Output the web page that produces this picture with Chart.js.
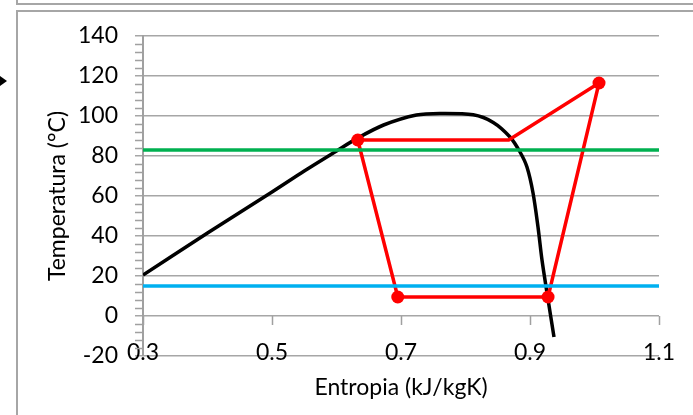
<!DOCTYPE html>
<html>
<head>
<meta charset="utf-8">
<script src="https://cdn.jsdelivr.net/npm/chart.js@4"></script>
<style>
  html, body { margin: 0; padding: 0; background: #fff; }
  #wrap { position: relative; width: 693px; height: 415px; }
</style>
</head>
<body>
<div id="wrap"><canvas id="tsChart" width="693" height="415"></canvas></div>
<script>
// --- DATA ---
// saturation dome (entropy kJ/kgK, temperature °C)
const domeS = [0.3, 0.4, 0.5, 0.55, 0.6, 0.632, 0.673, 0.724, 0.76, 0.812, 0.843, 0.869, 0.8845, 0.8953, 0.9047, 0.9124, 0.9186, 0.9264, 0.9372];
const domeT = [20.5, 41.5, 62, 72.5, 82.5, 88.8, 95.5, 100.5, 101.3, 100.6, 96.8, 89.5, 82, 74.5, 61.5, 44.5, 28, 11.5, -10.5];

// refrigeration cycle
const cycleS = [0.633, 0.867, 1.007, 0.928, 0.695, 0.633];
const cycleT = [88, 88, 116.5, 9.5, 9.5, 88];
const cycleMarker = [6.5, 0, 6.5, 6.5, 6.5, 0];

// constant temperature lines
const lineS = [0.3, 1.1];
const hotT = 83;
const coldT = 15;

const xTicks = [0.3, 0.5, 0.7, 0.9, 1.1];
const yTicks = [-20, 0, 20, 40, 60, 80, 100, 120, 140];

function pts(xs, ys) {
    return xs.map((x, i) => ({ x: x, y: ys[i] }));
}

// --- DECORATION: frame, arrow, x ticks at 0, minor y ticks ---
const decor = {
    id: 'decor',
    beforeDraw(chart) {
        const c = chart.ctx;
        c.save();
        c.strokeStyle = '#a6a6a6';
        c.lineWidth = 2;
        c.beginPath();
        c.moveTo(17, 0); c.lineTo(17, 4); c.lineTo(693, 4);
        c.moveTo(17, 415); c.lineTo(17, 11); c.lineTo(693, 11);
        c.stroke();
        // little arrow at the left
        c.fillStyle = '#000';
        c.beginPath();
        c.moveTo(0, 76); c.lineTo(7, 81); c.lineTo(0, 86);
        c.closePath();
        c.fill();
        c.restore();
    },
    beforeDatasetsDraw(chart) {
        const c = chart.ctx;
        const xs = chart.scales.x, ys = chart.scales.y;
        const y0 = ys.getPixelForValue(0);
        const left = chart.chartArea.left;
        c.save();
        c.strokeStyle = '#a0a0a0';
        c.lineWidth = 1.5;
        c.beginPath();
        // x ticks hanging from the zero line
        xTicks.forEach(v => {
            const px = Math.round(xs.getPixelForValue(v)) + 0.5;
            c.moveTo(px, y0); c.lineTo(px, y0 + 9);
        });
        // minor ticks on y axis every 4
        for (let v = -20; v <= 140; v += 4) {
            if (v % 20 === 0) continue;
            const py = Math.round(ys.getPixelForValue(v)) + 0.5;
            c.moveTo(left - 8, py); c.lineTo(left, py);
        }
        c.stroke();
        c.restore();
    }
};

const ctx = document.getElementById('tsChart').getContext('2d');
new Chart(ctx, {
    type: 'scatter',
    data: {
        datasets: [
            { label: 'hot', data: pts(lineS, [hotT, hotT]), showLine: true, borderColor: '#00b050', borderWidth: 3.5, pointRadius: 0 },
            { label: 'cold', data: pts(lineS, [coldT, coldT]), showLine: true, borderColor: '#00b0f0', borderWidth: 3.5, pointRadius: 0 },
            { label: 'cycle', data: pts(cycleS, cycleT), showLine: true, borderColor: '#ff0000', borderWidth: 3.5,
              pointRadius: cycleMarker, pointBackgroundColor: '#ff0000', pointBorderColor: '#ff0000', pointBorderWidth: 0 },
            { label: 'dome', data: pts(domeS, domeT), showLine: true, borderColor: '#000', borderWidth: 3.5, pointRadius: 0,
              tension: 0.3 }
        ]
    },
    options: {
        responsive: false,
        animation: false,
        events: [],
        layout: { padding: { left: 0, top: 36, right: 34, bottom: 0 } },
        plugins: { legend: { display: false }, tooltip: { enabled: false } },
        scales: {
            x: {
                type: 'linear', min: 0.3, max: 1.1,
                afterBuildTicks: s => { s.ticks = xTicks.map(v => ({ value: v })); },
                afterFit: s => { s.height = 59; },
                grid: { display: false, drawTicks: false },
                border: { display: false },
                // mirrored so the labels sit on the bottom gridline like the original
                ticks: { mirror: true, padding: -10, color: '#000', font: { family: 'Lato', size: 23 }, callback: v => String(v) },
                title: { display: true, text: 'Entropia (kJ/kgK)', color: '#000', padding: 14, font: { family: 'Lato', size: 23 } }
            },
            y: {
                min: -20, max: 140,
                afterBuildTicks: s => { s.ticks = yTicks.map(v => ({ value: v })); },
                afterFit: s => { s.width = 143; },
                grid: { color: '#a6a6a6', lineWidth: 1.5, tickLength: 8, drawTicks: true },
                border: { color: '#a0a0a0', width: 2 },
                ticks: { padding: 17, color: '#000', font: { family: 'Lato', size: 23 } },
                title: { display: true, text: 'Temperatura (°C)', color: '#000', padding: 44, font: { family: 'Lato', size: 23 } }
            }
        }
    },
    plugins: [decor]
});
</script>
</body>
</html>
